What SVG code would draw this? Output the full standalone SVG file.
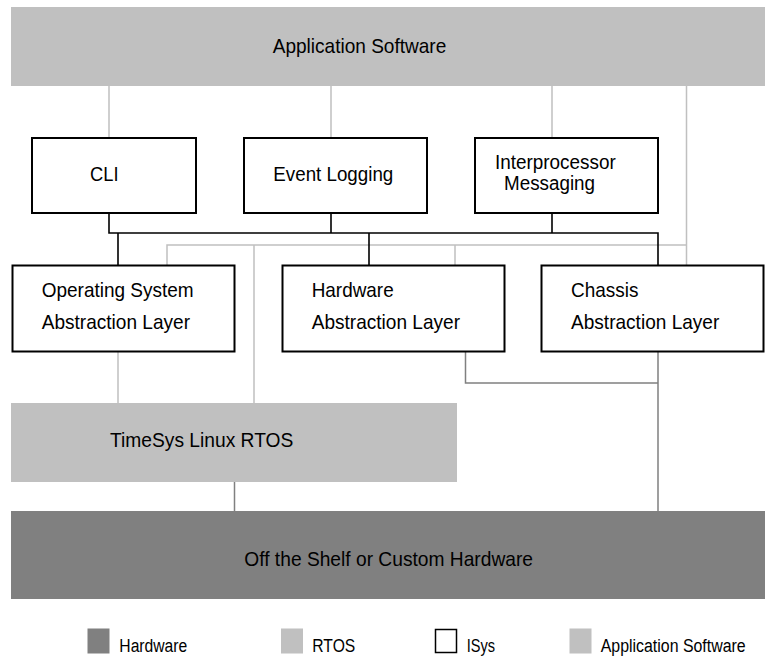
<svg xmlns="http://www.w3.org/2000/svg" width="772" height="656" viewBox="0 0 772 656">
<style>
text{font-family:"Liberation Sans",Arial,sans-serif;font-size:21px;fill:#000}
.leg{font-size:18px}
.sm{font-size:19.5px}
.isys{fill:#fff;stroke:#000;stroke-width:2}
.app{fill:#c0c0c0}
.rtos{fill:#c0c0c0}
.hw{fill:#808080}
.lg{stroke:#c0c0c0;stroke-width:1.5;fill:none}
.dg{stroke:#808080;stroke-width:1.5;fill:none}
.bk{stroke:#000;stroke-width:1.6;fill:none}
</style>
<rect width="772" height="656" fill="#fff"/>
<g id="connectors">
<path class="lg" d="M109 86V137M331 86V137M552 86V137M686.5 86V265M167 265V245H686.5M254 245V403M455 245V265M118 352V403"/>
<path class="bk" d="M109 213V233H658V265M331 213V233M552 213V233M118 233V265M369 233V265"/>
<path class="dg" d="M465.5 352V383H658M658 352V511M234.5 482V511"/>
</g>
<g id="app-software">
<rect class="app" x="11" y="7" width="754" height="79"/>
<text x="272.7" y="53" textLength="173.6" lengthAdjust="spacingAndGlyphs">Application Software</text>
</g>
<g id="cli">
<rect class="isys" x="32" y="138" width="164" height="75"/>
<text x="90" y="181" textLength="28.5" lengthAdjust="spacingAndGlyphs">CLI</text>
</g>
<g id="event-logging">
<rect class="isys" x="244" y="138" width="183" height="75"/>
<text x="273.3" y="181" textLength="120" lengthAdjust="spacingAndGlyphs">Event Logging</text>
</g>
<g id="interprocessor-messaging">
<rect class="isys" x="475" y="138" width="183" height="75"/>
<text class="sm" x="495" y="169" textLength="120.7" lengthAdjust="spacingAndGlyphs">Interprocessor</text>
<text class="sm" x="504" y="190" textLength="91" lengthAdjust="spacingAndGlyphs">Messaging</text>
</g>
<g id="os-abstraction">
<rect class="isys" x="12.5" y="265.5" width="222" height="86"/>
<text x="41.7" y="297" textLength="152" lengthAdjust="spacingAndGlyphs">Operating System</text>
<text x="41.7" y="329" textLength="148.3" lengthAdjust="spacingAndGlyphs">Abstraction Layer</text>
</g>
<g id="hw-abstraction">
<rect class="isys" x="282.5" y="265.5" width="222" height="86"/>
<text x="311.7" y="297" textLength="82" lengthAdjust="spacingAndGlyphs">Hardware</text>
<text x="311.7" y="329" textLength="148.3" lengthAdjust="spacingAndGlyphs">Abstraction Layer</text>
</g>
<g id="chassis-abstraction">
<rect class="isys" x="541.5" y="265.5" width="222" height="86"/>
<text x="571" y="297" textLength="67.5" lengthAdjust="spacingAndGlyphs">Chassis</text>
<text x="571" y="329" textLength="148.3" lengthAdjust="spacingAndGlyphs">Abstraction Layer</text>
</g>
<g id="timesys-rtos">
<rect class="rtos" x="11" y="403" width="446" height="79"/>
<text x="110" y="447" textLength="183.3" lengthAdjust="spacingAndGlyphs">TimeSys Linux RTOS</text>
</g>
<g id="hardware">
<rect class="hw" x="11" y="511" width="754" height="88"/>
<text x="244.3" y="566" textLength="288.7" lengthAdjust="spacingAndGlyphs">Off the Shelf or Custom Hardware</text>
</g>
<g id="legend">
<rect class="hw" x="87.5" y="628.5" width="22" height="25"/>
<text class="leg" x="119.3" y="651.5" textLength="68" lengthAdjust="spacingAndGlyphs">Hardware</text>
<rect class="rtos" x="281" y="628.5" width="22" height="25"/>
<text class="leg" x="312.3" y="651.5" textLength="43" lengthAdjust="spacingAndGlyphs">RTOS</text>
<rect fill="#fff" stroke="#000" stroke-width="1.5" x="435.5" y="629.5" width="21" height="23"/>
<text class="leg" x="466.7" y="651.5" textLength="28.3" lengthAdjust="spacingAndGlyphs">ISys</text>
<rect class="app" x="569.5" y="628.5" width="22" height="25"/>
<text class="leg" x="600.7" y="651.5" textLength="145" lengthAdjust="spacingAndGlyphs">Application Software</text>
</g>
</svg>
